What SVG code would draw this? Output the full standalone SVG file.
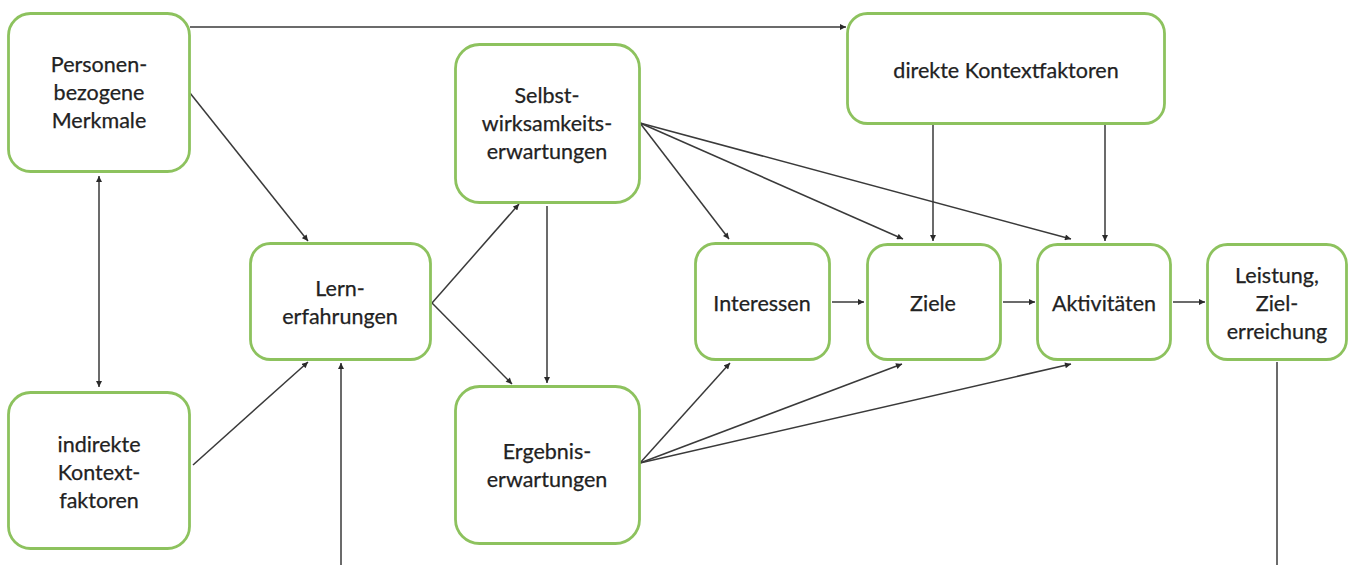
<svg xmlns="http://www.w3.org/2000/svg" width="1349" height="565" viewBox="0 0 1349 565">
  <style>
    .box { fill: #ffffff; stroke: #8dc25e; stroke-width: 2.8; }
    .lbl { font-family: Lato, "Liberation Sans", sans-serif; font-size: 21.5px; fill: #222222; text-anchor: middle; stroke: #222222; stroke-width: 0.25; }
    .edge { fill: none; stroke: #3a3a3a; stroke-width: 1.5; }
  </style>
  <defs>
    <marker id="arr" viewBox="0 0 10 10" refX="10" refY="5" markerWidth="7" markerHeight="6" markerUnits="userSpaceOnUse" orient="auto-start-reverse">
      <path d="M0,0 L10,5 L0,10 z" fill="#2a2a2a"/>
    </marker>
  </defs>
  <rect width="1349" height="565" fill="#ffffff"/>

  <!-- arrows between the boxes -->
  <g id="connectors">
    <line class="edge" x1="190" y1="27" x2="846" y2="27" marker-end="url(#arr)"/>
    <line class="edge" x1="190" y1="93" x2="308" y2="241" marker-end="url(#arr)"/>
    <line class="edge" x1="99" y1="176" x2="99" y2="387" marker-start="url(#arr)" marker-end="url(#arr)"/>
    <line class="edge" x1="193" y1="465" x2="308" y2="362" marker-end="url(#arr)"/>
    <line class="edge" x1="341" y1="565" x2="341" y2="363" marker-end="url(#arr)"/>
    <line class="edge" x1="432" y1="303" x2="519" y2="204" marker-end="url(#arr)"/>
    <line class="edge" x1="432" y1="303" x2="512" y2="384" marker-end="url(#arr)"/>
    <line class="edge" x1="547" y1="206" x2="547" y2="383" marker-end="url(#arr)"/>
    <line class="edge" x1="640" y1="123" x2="729" y2="239" marker-end="url(#arr)"/>
    <line class="edge" x1="640" y1="123" x2="903" y2="239" marker-end="url(#arr)"/>
    <line class="edge" x1="640" y1="123" x2="1071" y2="239" marker-end="url(#arr)"/>
    <line class="edge" x1="933" y1="124" x2="933" y2="241" marker-end="url(#arr)"/>
    <line class="edge" x1="1105" y1="124" x2="1105" y2="241" marker-end="url(#arr)"/>
    <line class="edge" x1="832" y1="302" x2="864" y2="302" marker-end="url(#arr)"/>
    <line class="edge" x1="1003" y1="302" x2="1035" y2="302" marker-end="url(#arr)"/>
    <line class="edge" x1="1173" y1="302" x2="1205" y2="302" marker-end="url(#arr)"/>
    <line class="edge" x1="640" y1="463" x2="730" y2="363" marker-end="url(#arr)"/>
    <line class="edge" x1="640" y1="463" x2="902" y2="364" marker-end="url(#arr)"/>
    <line class="edge" x1="640" y1="463" x2="1071" y2="364" marker-end="url(#arr)"/>
    <line class="edge" x1="1277" y1="362" x2="1277" y2="565"/>
  </g>

  <g id="personenbezogene-merkmale">
    <rect class="box" x="8.5" y="13.5" width="181" height="158" rx="22"/>
    <text class="lbl" x="99" y="72">Personen-</text>
    <text class="lbl" x="99" y="100">bezogene</text>
    <text class="lbl" x="99" y="128">Merkmale</text>
  </g>

  <g id="indirekte-kontextfaktoren">
    <rect class="box" x="8.5" y="392.5" width="181" height="156" rx="22"/>
    <text class="lbl" x="99" y="452">indirekte</text>
    <text class="lbl" x="99" y="480">Kontext-</text>
    <text class="lbl" x="99" y="508">faktoren</text>
  </g>

  <g id="lernerfahrungen">
    <rect class="box" x="250.5" y="243.5" width="180" height="116" rx="20"/>
    <text class="lbl" x="340" y="296">Lern-</text>
    <text class="lbl" x="340" y="324">erfahrungen</text>
  </g>

  <g id="selbstwirksamkeitserwartungen">
    <rect class="box" x="455.5" y="44.5" width="184" height="158" rx="24"/>
    <text class="lbl" x="547" y="103">Selbst-</text>
    <text class="lbl" x="547" y="131">wirksamkeits-</text>
    <text class="lbl" x="547" y="159">erwartungen</text>
  </g>

  <g id="ergebniserwartungen">
    <rect class="box" x="455.5" y="386.5" width="184" height="157" rx="24"/>
    <text class="lbl" x="547" y="459">Ergebnis-</text>
    <text class="lbl" x="547" y="487">erwartungen</text>
  </g>

  <g id="direkte-kontextfaktoren">
    <rect class="box" x="847.5" y="13.5" width="317" height="110" rx="20"/>
    <text class="lbl" x="1006" y="78">direkte Kontextfaktoren</text>
  </g>

  <g id="interessen">
    <rect class="box" x="695.5" y="243.5" width="134" height="116" rx="20"/>
    <text class="lbl" x="762" y="311">Interessen</text>
  </g>

  <g id="ziele">
    <rect class="box" x="867.5" y="244.5" width="133" height="115" rx="20"/>
    <text class="lbl" x="933" y="311">Ziele</text>
  </g>

  <g id="aktivitaeten">
    <rect class="box" x="1037.5" y="244.5" width="133" height="115" rx="20"/>
    <text class="lbl" x="1104" y="311">Aktivitäten</text>
  </g>

  <g id="leistung-zielerreichung">
    <rect class="box" x="1207.5" y="244.5" width="139" height="115" rx="20"/>
    <text class="lbl" x="1277" y="283">Leistung,</text>
    <text class="lbl" x="1277" y="311">Ziel-</text>
    <text class="lbl" x="1277" y="339">erreichung</text>
  </g>
</svg>
